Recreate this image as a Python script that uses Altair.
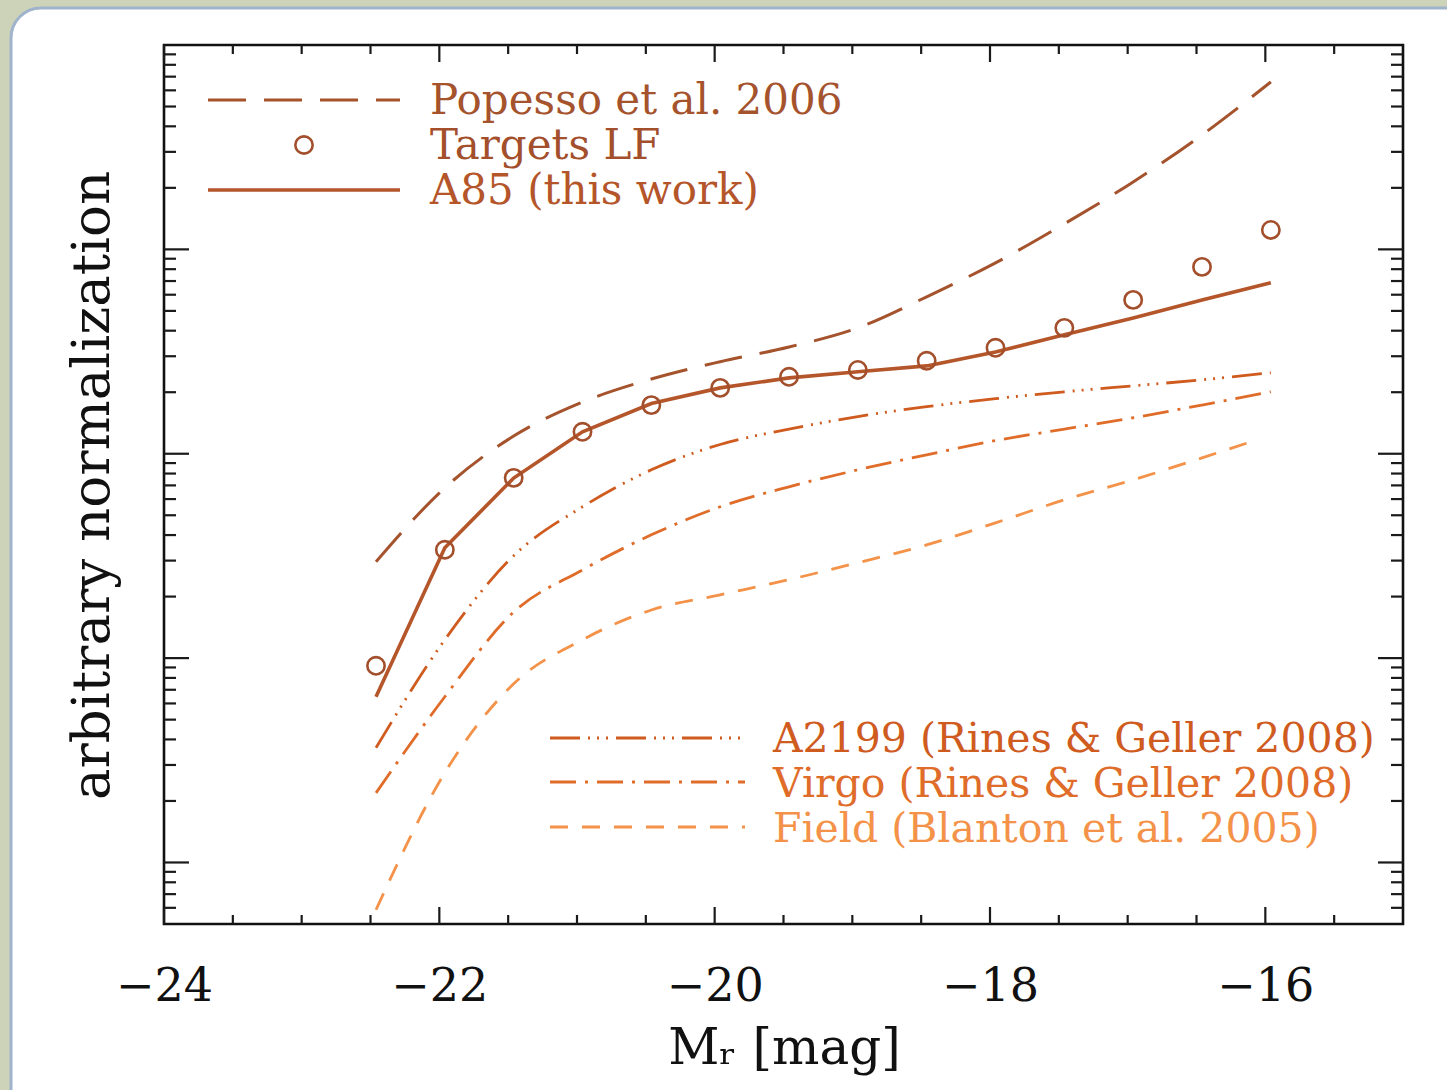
import altair as alt
import pandas as pd

# ---- data ----
mag = [-22.46, -21.96, -21.46, -20.96, -20.46, -19.96, -19.46, -18.96,
       -18.46, -17.96, -17.46, -16.96, -16.46, -15.96]
targets_lf = [9.17, 33.9, 76.2, 128, 173, 210, 238, 257, 285, 330, 413, 566, 821, 1245]
a85 = [6.47, 34.7, 76, 128, 176, 210, 235, 252, 269, 315, 382, 462, 566, 686]
popesso = [29.6, 68.1, 122, 179, 232, 282, 333, 413, 586, 859, 1333, 2138, 3631, 6596]
a2199 = [3.64, 12.3, 31.7, 55.0, 83.4, 111, 132, 152, 170, 186, 201, 215, 230, 249]
virgo = [2.19, 6.47, 16.8, 27.0, 40.1, 55.0, 68.9, 83.4, 98.8, 116, 132, 150, 173, 201]
field_mag = [-22.46, -21.96, -21.46, -20.96, -20.46, -19.96, -19.46, -18.96,
             -18.46, -17.96, -17.46, -16.96, -16.46, -16.06]
field = [0.587, 2.75, 7.49, 12.3, 17.2, 20.4, 24.2, 29.3, 35.8, 45.9, 59.5, 74.5, 95.5, 117]

x_major = [-24, -22, -20, -18, -16]
x_minor = [-23.5, -23, -22.5, -21.5, -21, -20.5, -19.5, -19, -18.5, -17.5, -17, -16.5, -15.5]
y_major = [1, 10, 100, 1000]
y_minor = [0.6, 0.7, 0.8, 0.9,
           2, 3, 4, 5, 6, 7, 8, 9,
           20, 30, 40, 50, 60, 70, 80, 90,
           200, 300, 400, 500, 600, 700, 800, 900,
           2000, 3000, 4000, 5000, 6000, 7000, 8000, 9000]

# ---- styling ----
W, H = 1239, 879
C_POP = "#a5532d"
C_TGT = "#a34f2c"
C_A85 = "#b4552a"
C_A2199 = "#cf5b1f"
C_VIRGO = "#e06c2a"
C_FIELD = "#f39248"
FONT = "DejaVu Serif"

XS = alt.Scale(domain=[-24, -15], nice=False, zero=False)
YS = alt.Scale(type="log", domain=[0.5, 10000], nice=False)

x_axis = alt.Axis(values=x_major, format="d", ticks=False, domain=False, grid=False,
                  labelFont=FONT, labelFontSize=46, labelColor="#111",
                  labelBaseline="alphabetic", labelPadding=76, labelFlush=False,
                  labelOverlap=False, zindex=2,
                  title="Mᵣ [mag]", titleFont=FONT, titleFontSize=50,
                  titleFontWeight="normal", titleColor="#111",
                  titleX=620, titleY=139, titleBaseline="alphabetic", titleAlign="center")
y_axis = alt.Axis(labels=False, ticks=False, domain=False, grid=False, zindex=2,
                  title="arbitrary normalization", titleFont=FONT, titleFontSize=53,
                  titleFontWeight="normal", titleColor="#111", titleAngle=-90,
                  titleX=-56, titleY=440, titleBaseline="alphabetic", titleAlign="center")


def xe(field="m"):
    return alt.X(f"{field}:Q", scale=XS, axis=x_axis)


def ye(field="v"):
    return alt.Y(f"{field}:Q", scale=YS, axis=y_axis)


one = pd.DataFrame({"k": [0]})

panel = alt.Chart(one).mark_rect(fill="white", stroke="#9fb3cb", strokeWidth=3,
                                 cornerRadius=30).encode(
    x=alt.value(-153), x2=alt.value(1330), y=alt.value(-37), y2=alt.value(1090))

frame = alt.Chart(one).mark_rect(fill="white", fillOpacity=0, stroke="#111",
                                 strokeWidth=2.6).encode(
    x=alt.value(0), x2=alt.value(W), y=alt.value(0), y2=alt.value(H))

# ---- ticks (inward, on all four sides) ----
dxM = pd.DataFrame({"m": x_major})
dxm = pd.DataFrame({"m": x_minor})
dyM = pd.DataFrame({"v": y_major})
dym = pd.DataFrame({"v": y_minor})
TK = dict(color="#1a1a1a", strokeWidth=2.2)
ticks = [
    alt.Chart(dxM).mark_rule(**TK).encode(x=xe(), y=alt.value(H), y2=alt.value(H - 17)),
    alt.Chart(dxM).mark_rule(**TK).encode(x=xe(), y=alt.value(0), y2=alt.value(17)),
    alt.Chart(dxm).mark_rule(**TK).encode(x=xe(), y=alt.value(H), y2=alt.value(H - 9)),
    alt.Chart(dxm).mark_rule(**TK).encode(x=xe(), y=alt.value(0), y2=alt.value(9)),
    alt.Chart(dyM).mark_rule(**TK).encode(y=ye(), x=alt.value(0), x2=alt.value(25)),
    alt.Chart(dyM).mark_rule(**TK).encode(y=ye(), x=alt.value(W), x2=alt.value(W - 25)),
    alt.Chart(dym).mark_rule(**TK).encode(y=ye(), x=alt.value(0), x2=alt.value(12)),
    alt.Chart(dym).mark_rule(**TK).encode(y=ye(), x=alt.value(W), x2=alt.value(W - 12)),
]

# ---- curves ----
def curve(xs, vs, color, dash=None, width=3.0, interp="monotone"):
    df = pd.DataFrame({"m": xs, "v": vs})
    kw = dict(color=color, strokeWidth=width, interpolate=interp)
    if dash is not None:
        kw["strokeDash"] = dash
    return alt.Chart(df).mark_line(**kw).encode(x=xe(), y=ye())

D_POP = [38, 18]
D_A2199 = [30, 8, 2, 7, 2, 7, 2, 8]
D_VIRGO = [26, 9, 3, 9]
D_FIELD = [18, 14]

lines = [
    curve(field_mag, field, C_FIELD, D_FIELD, 2.8),
    curve(mag, virgo, C_VIRGO, D_VIRGO, 2.8),
    curve(mag, a2199, C_A2199, D_A2199, 2.8),
    curve(mag, popesso, C_POP, D_POP, 3.0),
    curve(mag, a85, C_A85, None, 3.6, "linear"),
]

pts = alt.Chart(pd.DataFrame({"m": mag, "v": targets_lf})).mark_point(
    shape="circle", filled=False, size=300, strokeWidth=2.6, color=C_TGT, opacity=1
).encode(x=xe(), y=ye())

# ---- legends ----
def leg_line(x1, x2, y, color, dash=None, width=3.0):
    kw = dict(color=color, strokeWidth=width)
    if dash is not None:
        kw["strokeDash"] = dash
    return alt.Chart(one).mark_rule(**kw).encode(
        x=alt.value(x1), x2=alt.value(x2), y=alt.value(y))


def leg_text(x, y, txt, color, size=41):
    return alt.Chart(one).mark_text(text=txt, font=FONT, fontSize=size, color=color,
                                    align="left", baseline="alphabetic").encode(
        x=alt.value(x), y=alt.value(y))

legend = [
    leg_line(44, 236, 55, C_POP, D_POP, 3.0),
    alt.Chart(one).mark_point(shape="circle", filled=False, size=300, strokeWidth=2.6,
                              color=C_TGT, opacity=1).encode(x=alt.value(140), y=alt.value(100)),
    leg_line(44, 236, 145, C_A85, None, 3.4),
    leg_text(266, 69, "Popesso et al. 2006", C_POP, 42),
    leg_text(266, 114, "Targets LF", C_TGT, 42),
    leg_text(266, 159, "A85 (this work)", C_A85, 42),
    leg_line(386, 581, 693, C_A2199, D_A2199, 2.8),
    leg_line(386, 581, 737, C_VIRGO, D_VIRGO, 2.8),
    leg_line(386, 581, 782, C_FIELD, D_FIELD, 2.8),
    leg_text(609, 707, "A2199 (Rines & Geller 2008)", C_A2199),
    leg_text(609, 752, "Virgo (Rines & Geller 2008)", C_VIRGO),
    leg_text(609, 797, "Field (Blanton et al. 2005)", C_FIELD),
]

chart = alt.layer(panel, frame, *ticks, *lines, pts, *legend).properties(
    width=W, height=H,
    autosize=alt.AutoSizeParams(type="none"),
    padding={"left": 164, "top": 45, "right": 44, "bottom": 166},
).configure(background="#cdd3b9").configure_view(stroke=None)

chart.save("out.html", embed_options={"renderer": "svg", "actions": False})
